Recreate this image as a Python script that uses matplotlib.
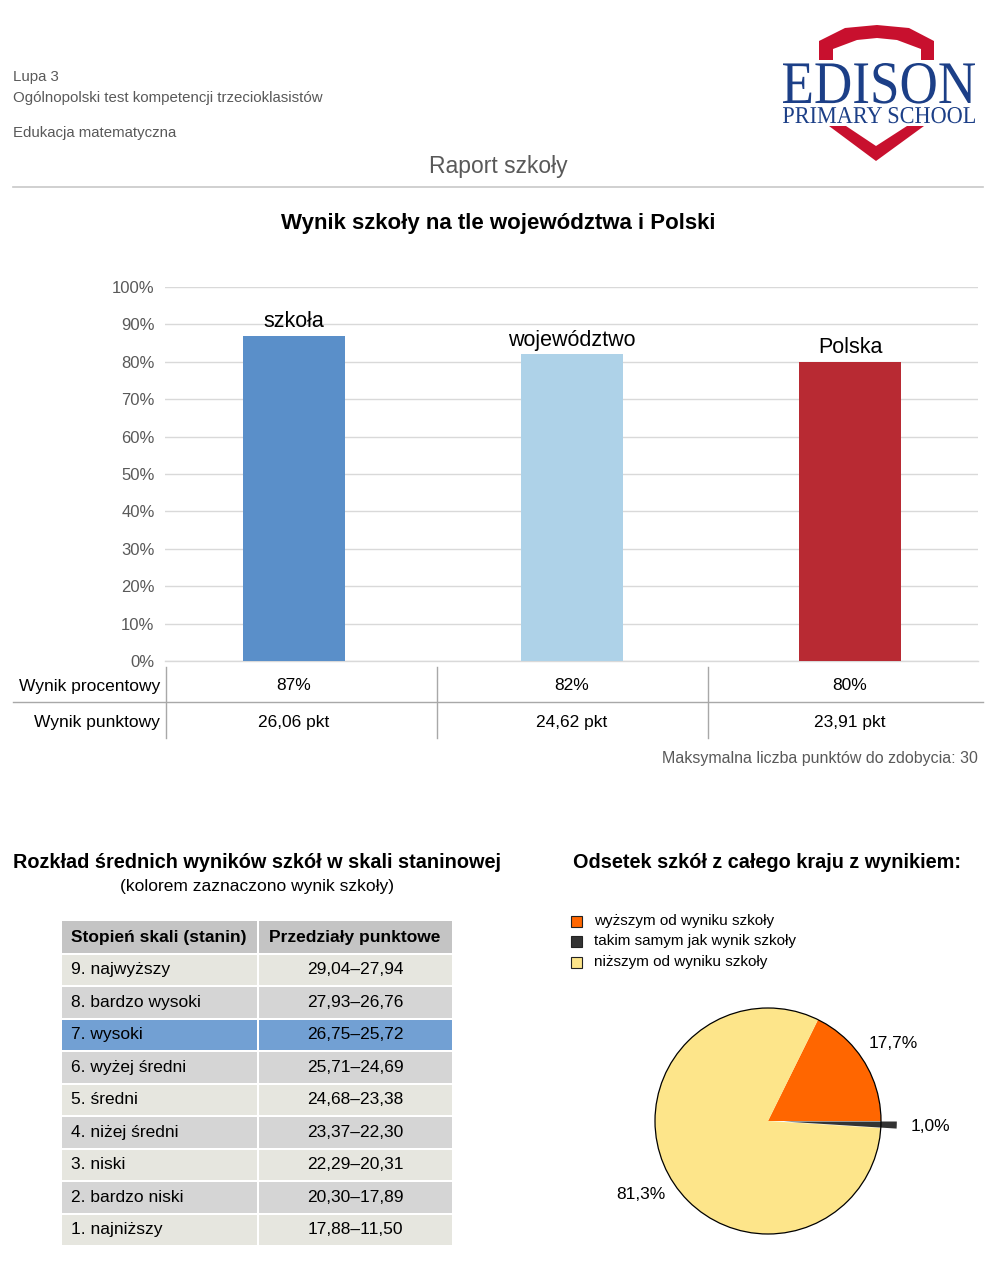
import matplotlib
matplotlib.use("Agg")
import matplotlib.pyplot as plt
from matplotlib.patches import Rectangle, Polygon, PathPatch
from matplotlib.textpath import TextPath
from matplotlib.font_manager import FontProperties
from matplotlib.transforms import Affine2D

plt.rcParams['font.family'] = ['Liberation Sans', 'DejaVu Sans']

# --- data ---
bar_names = ["szkoła", "województwo", "Polska"]
bar_pct = [87, 82, 80]
bar_pts = ["26,06 pkt", "24,62 pkt", "23,91 pkt"]
bar_colors = ["#5a8fc9", "#aed2e8", "#b82a33"]

stanin_labels = ["9. najwyższy", "8. bardzo wysoki", "7. wysoki", "6. wyżej średni",
                 "5. średni", "4. niżej średni", "3. niski", "2. bardzo niski", "1. najniższy"]
stanin_ranges = ["29,04–27,94", "27,93–26,76", "26,75–25,72", "25,71–24,69",
                 "24,68–23,38", "23,37–22,30", "22,29–20,31", "20,30–17,89", "17,88–11,50"]
school_stanin = "7. wysoki"

pie_labels = ["wyższym od wyniku szkoły", "takim samym jak wynik szkoły", "niższym od wyniku szkoły"]
pie_vals = [17.7, 1.0, 81.3]
pie_colors = ["#ff6600", "#333333", "#fde58a"]

W, H = 1000, 1267
fig = plt.figure(figsize=(W / 100, H / 100), dpi=100)

# background axes in pixel coords (y down)
bg = fig.add_axes([0, 0, 1, 1])
bg.set_xlim(0, W)
bg.set_ylim(H, 0)
bg.axis("off")

grey = "#595959"

# header
bg.text(13, 77, "Lupa 3", fontsize=10.8, color=grey, va="center")
bg.text(13, 98, "Ogólnopolski test kompetencji trzecioklasistów", fontsize=10.8, color=grey, va="center")
bg.text(13, 133, "Edukacja matematyczna", fontsize=10.8, color=grey, va="center")
bg.text(498, 166, "Raport szkoły", fontsize=16.5, color=grey, ha="center", va="center")
bg.plot([13, 983], [187, 187], color="#c8c8c8", lw=1.2)

# logo
red = "#c8102e"
blue = "#1c3f87"
bg.add_patch(Polygon([(819, 60), (819, 41), (845, 28), (877, 25), (909, 28), (934, 41), (934, 60)],
                     closed=True, color=red, lw=0))
bg.add_patch(Polygon([(833, 62), (833, 49), (857, 40), (877, 38), (897, 40), (921, 49), (921, 62)],
                     closed=True, color="white", lw=0))
bg.add_patch(Polygon([(829, 126), (924, 126), (876, 161)], closed=True, color=red, lw=0))
bg.add_patch(Polygon([(846, 126), (907, 126), (876, 146)], closed=True, color="white", lw=0))


def fit_text(s, x0, x1, ytop, ybase, color):
    tp = TextPath((0, 0), s, size=1, prop=FontProperties(family="Liberation Serif"))
    ext = tp.get_extents()
    sx = (x1 - x0) / ext.width
    sy = (ybase - ytop) / ext.y1
    tr = Affine2D().translate(-ext.x0, 0).scale(sx, -sy).translate(x0, ybase)
    bg.add_patch(PathPatch(tr.transform_path(tp), color=color, lw=0))


bg.add_patch(Rectangle((780, 62), 198, 64, color="white", lw=0))
fit_text("EDISON", 783, 975, 63, 103, blue)
fit_text("PRIMARY SCHOOL", 783, 975, 107, 123, blue)

# title
bg.text(498, 223, "Wynik szkoły na tle województwa i Polski", fontsize=16, fontweight="bold",
        ha="center", va="center")

# bar chart
ax = fig.add_axes([165 / W, 1 - 661 / H, 813 / W, 374 / H])
x = list(range(len(bar_names)))
bars = ax.bar(x, bar_pct, width=0.367, color=bar_colors, zorder=3)
ax.set_xlim(-0.464, 2.46)
ax.set_ylim(0, 100)
ax.set_yticks(range(0, 101, 10))
ax.set_yticklabels([f"{v}%" for v in range(0, 101, 10)])
ax.tick_params(axis="y", length=0, pad=7.5, labelsize=12, labelcolor=grey)
ax.set_xticks([])
for s in ax.spines.values():
    s.set_visible(False)
ax.yaxis.grid(True, color="#d9d9d9", lw=1)
ax.axhline(0, color="#d9d9d9", lw=1, clip_on=False, zorder=2)
ax.set_axisbelow(True)
for xi, v, name in zip(x, bar_pct, bar_names):
    ax.text(xi, v + 1.0, name, ha="center", va="bottom", fontsize=15.5)

# table under the bars
for xv in [166, 437, 708]:
    bg.plot([xv, xv], [667, 738], color="#a8a8a8", lw=1)
bg.plot([13, 983], [702, 702], color="#a8a8a8", lw=1)
bg.text(160, 686, "Wynik procentowy", fontsize=12.5, ha="right", va="center")
bg.text(160, 722, "Wynik punktowy", fontsize=12.5, ha="right", va="center")
centers = [294, 572, 850]
for cx, p, pts in zip(centers, bar_pct, bar_pts):
    bg.text(cx, 686, f"{p}%", fontsize=12.5, ha="center", va="center")
    bg.text(cx, 722, pts, fontsize=12.5, ha="center", va="center")
bg.text(978, 758, "Maksymalna liczba punktów do zdobycia: 30", fontsize=11.5, color=grey,
        ha="right", va="center")

# stanine section
bg.text(13, 862, "Rozkład średnich wyników szkół w skali staninowej", fontsize=14.3,
        fontweight="bold", va="center")
bg.text(257, 887, "(kolorem zaznaczono wynik szkoły)", fontsize=12.5, ha="center", va="center")

tx0, tx1, tx2 = 62, 258, 452
ytop, rh = 921, 32.5
bg.add_patch(Rectangle((tx0, ytop), tx1 - tx0 - 1, rh - 1, color="#c4c4c4", lw=0))
bg.add_patch(Rectangle((tx1 + 1, ytop), tx2 - tx1 - 1, rh - 1, color="#c4c4c4", lw=0))
bg.text(71, ytop + rh / 2, "Stopień skali (stanin)", fontsize=12.5, fontweight="bold", va="center")
bg.text(355, ytop + rh / 2, "Przedziały punktowe", fontsize=12.5, fontweight="bold",
        va="center", ha="center")
for i, (lab, rng) in enumerate(zip(stanin_labels, stanin_ranges)):
    y0 = ytop + rh * (i + 1)
    if lab == school_stanin:
        c = "#72a0d3"
    elif i % 2 == 0:
        c = "#e6e6df"
    else:
        c = "#d5d5d5"
    bg.add_patch(Rectangle((tx0, y0 + 1), tx1 - tx0 - 1, rh - 2, color=c, lw=0))
    bg.add_patch(Rectangle((tx1 + 1, y0 + 1), tx2 - tx1 - 1, rh - 2, color=c, lw=0))
    bg.text(71, y0 + rh / 2, lab, fontsize=12.5, va="center")
    bg.text(355, y0 + rh / 2, rng, fontsize=12.5, va="center", ha="center")

# pie section
bg.text(573, 862, "Odsetek szkół z całego kraju z wynikiem:", fontsize=14.3, fontweight="bold",
        va="center")
for i, (lab, c) in enumerate(zip(pie_labels, pie_colors)):
    yy = 921 + i * 20.5
    bg.add_patch(Rectangle((571, yy - 5.5), 11, 11, facecolor=c, edgecolor="#222222", lw=0.8))
    bg.text(594, yy, lab, fontsize=11, va="center")

r = 113
cx, cy = 768, 1121
pax = fig.add_axes([(cx - 2 * r) / W, 1 - (cy + 2 * r) / H, 4 * r / W, 4 * r / H])
order = [0, 2, 1]
vals = [pie_vals[k] for k in order]
cols = [pie_colors[k] for k in order]
expl = [0.0, 0.0, 0.14]
wedges, _, autotexts = pax.pie(vals, colors=cols, explode=expl, startangle=0, counterclock=True,
                               autopct=lambda p: f"{p:.1f}%".replace(".", ","), pctdistance=1.3,
                               wedgeprops=dict(lw=0), textprops=dict(fontsize=12.5))
pax.add_patch(plt.Circle((0, 0), 1, fill=False, edgecolor="black", lw=0.9))
pax.set_xlim(-2, 2)
pax.set_ylim(-2, 2)
pax.set_aspect("equal")
pax.axis("off")

fig.savefig("out.png", dpi=100)
